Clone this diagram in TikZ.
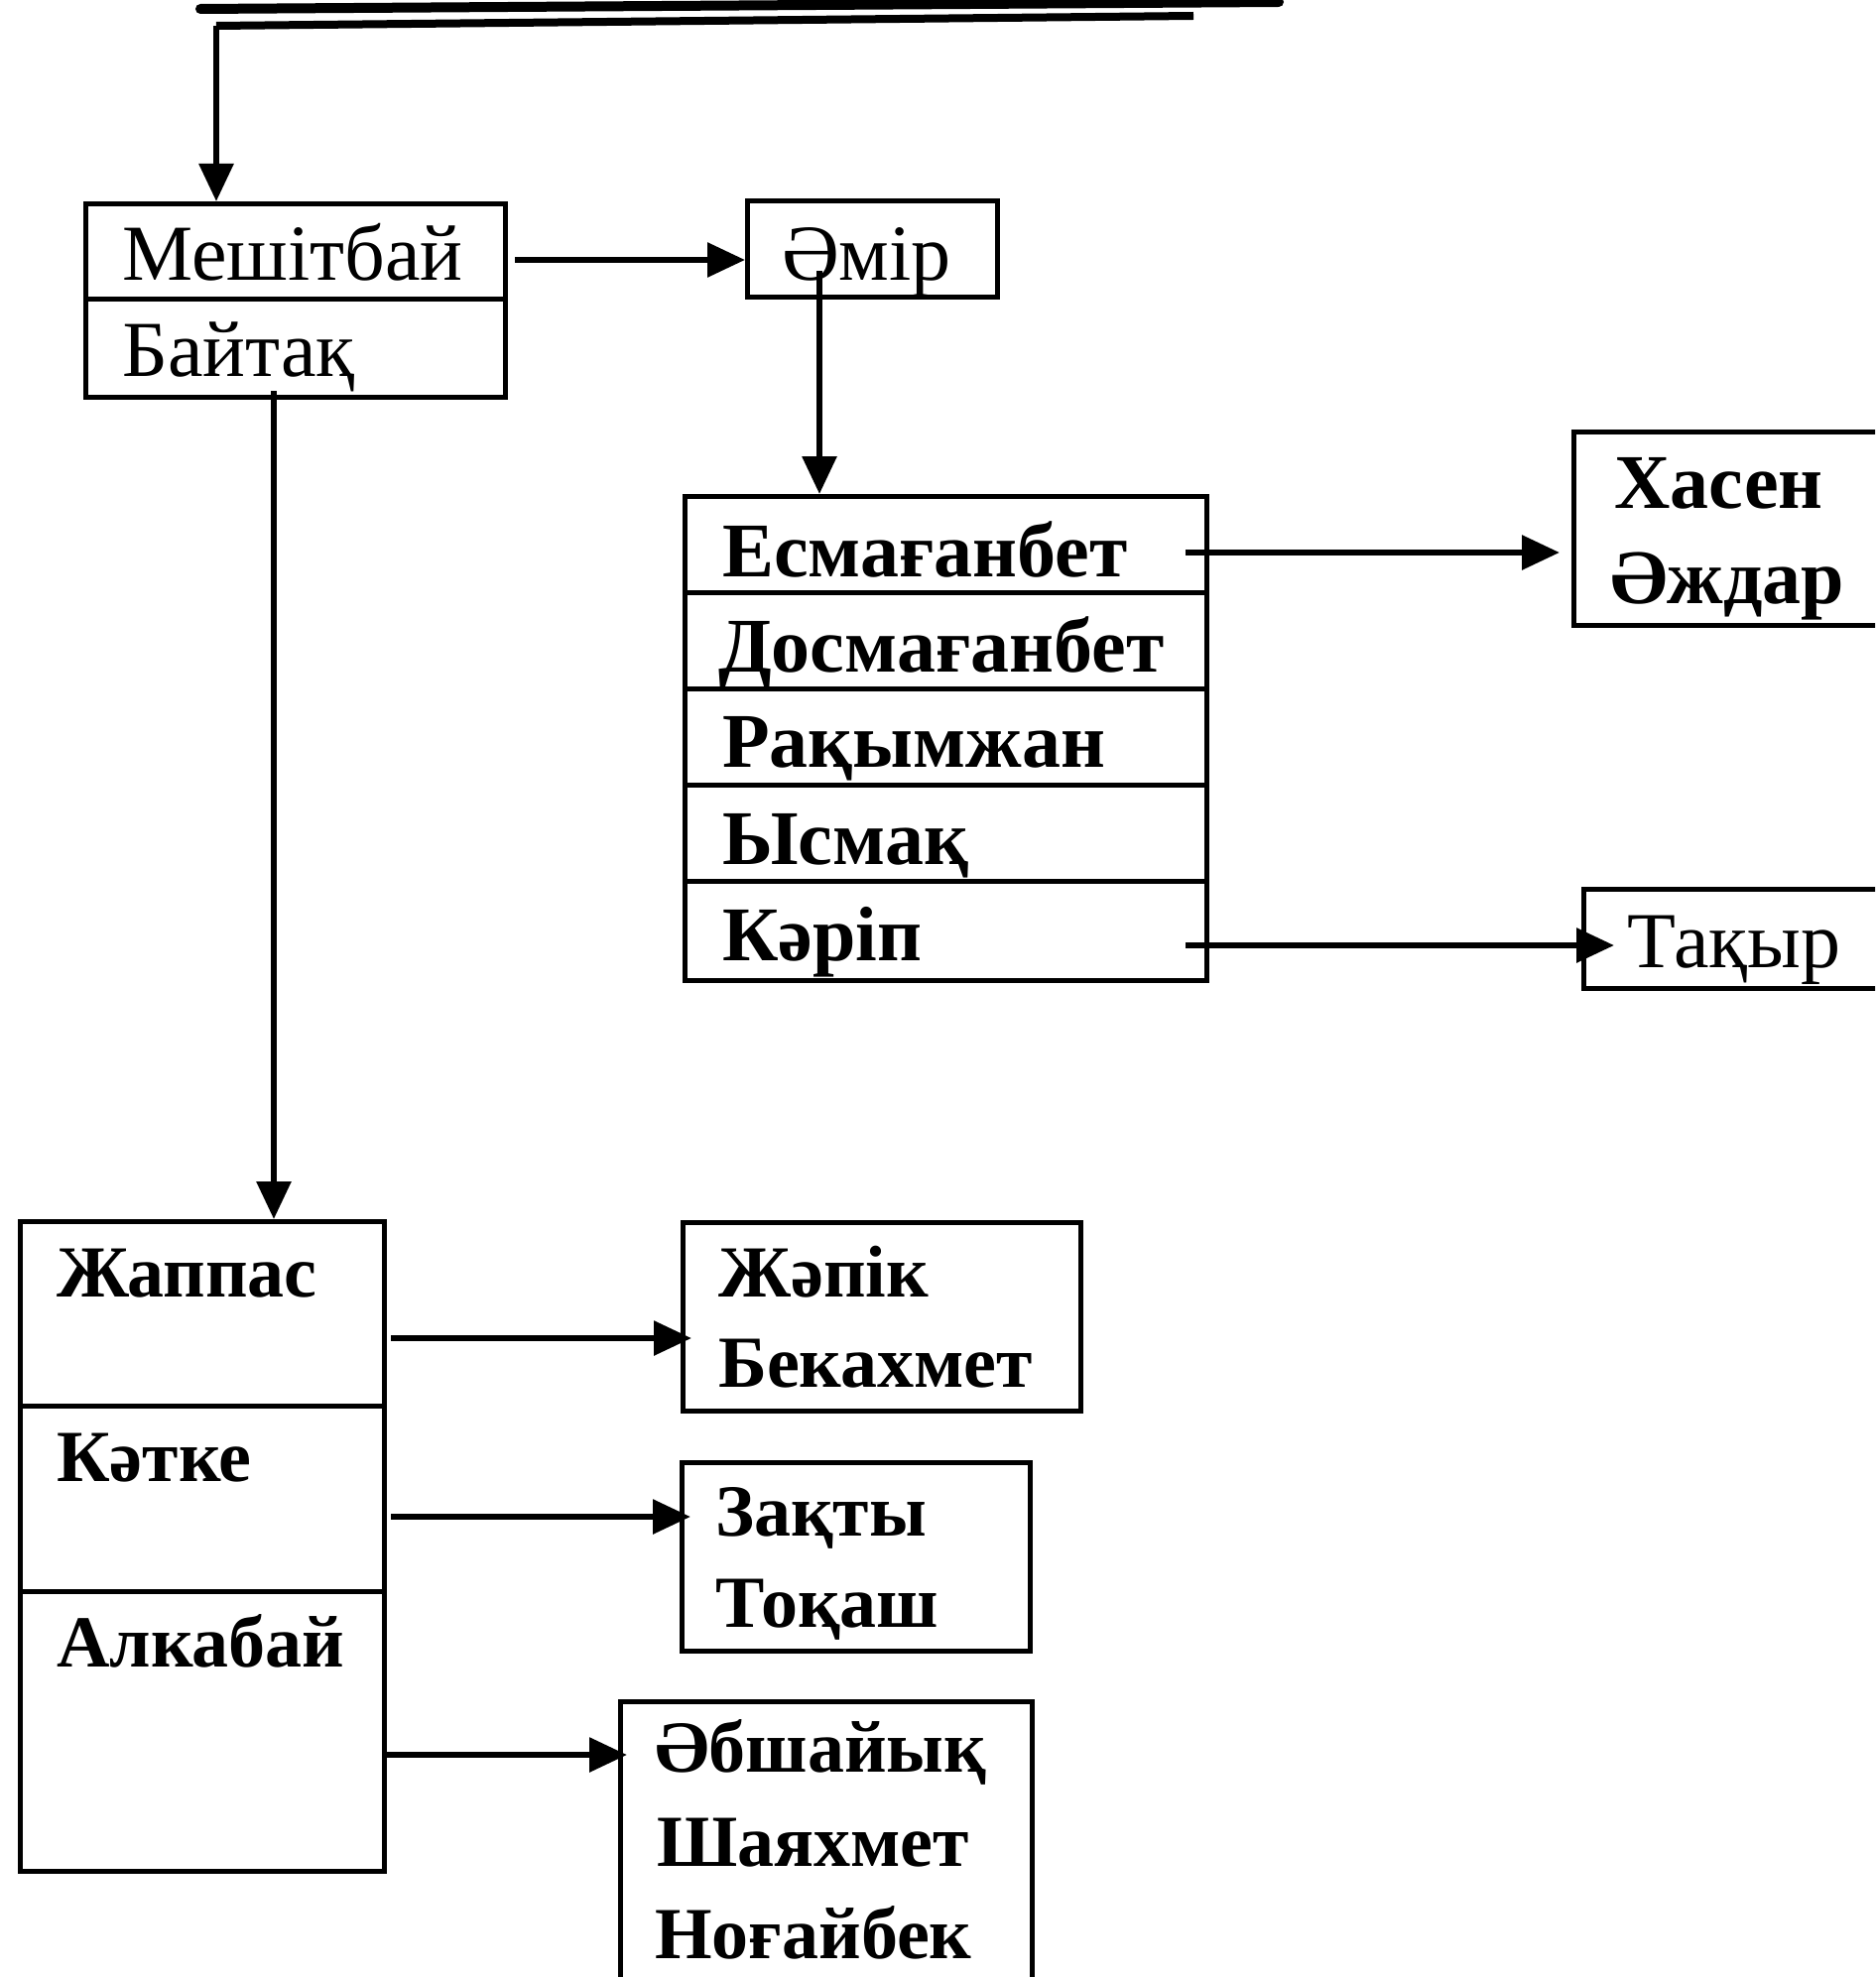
\documentclass[tikz,border=0pt]{standalone}
\usepackage{fontspec}
\setmainfont{Liberation Serif}
\usetikzlibrary{arrows.meta}
\tikzset{
  box/.style={draw, line width=5pt, rectangle, inner sep=0pt, anchor=north west},
  divider/.style={line width=5pt},
  arr/.style={line width=6pt, -{Triangle[length=38pt,width=34pt]}},
  lblb/.style={anchor=base west, inner sep=0pt, font=\fontsize{78}{80}\selectfont\bfseries},
  lblr/.style={anchor=base west, inner sep=0pt, font=\fontsize{80}{82}\selectfont},
  lbll/.style={anchor=base west, inner sep=0pt, font=\fontsize{74}{76}\selectfont\bfseries},
}
\begin{document}
\begin{tikzpicture}[x=1pt,y=-1pt]
\path[use as bounding box, clip] (0,0) rectangle (1890,1993);
\fill[white] (0,0) rectangle (1890,1993);

% top lines
\coordinate (topL) at (218,26);
\coordinate (topR) at (1203,16);
\coordinate (upL) at (202,9);
\coordinate (upR) at (1289,2);
\draw[line width=10pt, line cap=round] (upL) -- (upR);
\draw[line width=8pt] (topL) -- (topR);

% boxes
\node[box, minimum width=423pt, minimum height=195pt] (mesh) at (84,203) {};
\node[box, minimum width=252pt, minimum height=97pt] (amir) at (751,200) {};
\node[box, minimum width=526pt, minimum height=488pt] (big) at (688,498) {};
\node[box, minimum width=330pt, minimum height=195pt] (hasen) at (1584,433) {};
\node[box, minimum width=330pt, minimum height=100pt] (takyr) at (1594,894) {};
\node[box, minimum width=367pt, minimum height=655pt] (bot) at (18,1229) {};
\node[box, minimum width=401pt, minimum height=190pt] (zhapik) at (686,1230) {};
\node[box, minimum width=351pt, minimum height=190pt] (zakty) at (685,1472) {};
\node[box, minimum width=415pt, minimum height=320pt] (absh) at (623,1713) {};

% dividers
\draw[divider] (mesh.west |- 0,301) -- (mesh.east |- 0,301);
\foreach \yy in {597,694,791,888}{
  \draw[divider] (big.west |- 0,\yy) -- (big.east |- 0,\yy);
}
\draw[divider] (bot.west |- 0,1417) -- (bot.east |- 0,1417);
\draw[divider] (bot.west |- 0,1604) -- (bot.east |- 0,1604);

% texts
\node[lblr] (tMesh) at (123,282) {Мешітбай};
\node[lblr] (tBait) at (123,379) {Байтақ};
\node[lblr] (tAmir) at (788,282) {Әмір};
\node[lblb] (tEsm) at (728,581) {Есмағанбет};
\node[lblb] (tDos) at (724,677) {Досмағанбет};
\node[lblb] (tRak) at (728,773) {Рақымжан};
\node[lblb] (tYsm) at (728,871) {Ысмақ};
\node[lblb] (tKar) at (728,968) {Кәріп};
\node[lblb] (tHas) at (1627,512) {Хасен};
\node[lblb] (tAzh) at (1623,608) {Әждар};
\node[lblr] (tTak) at (1640,975) {Тақыр};
\node[lbll] (tZhap) at (57,1307) {Жаппас};
\node[lbll] (tKat) at (57,1493) {Кәтке};
\node[lbll] (tAlk) at (57,1680) {Алкабай};
\node[lbll] (tZhp) at (724,1307) {Жәпік};
\node[lbll] (tBek) at (724,1398) {Бекахмет};
\node[lbll] (tZak) at (721,1548) {Зақты};
\node[lbll] (tTok) at (721,1640) {Тоқаш};
\node[lbll] (tAbs) at (660,1786) {Әбшайық};
\node[lbll] (tSha) at (662,1881) {Шаяхмет};
\node[lbll] (tNog) at (660,1974) {Ноғайбек};

% connectors
\draw[arr] (topL) -- (topL |- mesh.north);
\coordinate (c1) at (519,262);
\draw[arr] (c1) -- (c1 -| amir.west);
\coordinate (c2) at (826,273);
\draw[arr] (c2) -- (c2 |- big.north);
\coordinate (c3) at (1195,557);
\draw[arr, shorten >=12pt] (c3) -- (c3 -| hasen.west);
\coordinate (c4) at (1195,953);
\draw[arr, shorten >=-33pt] (c4) -- (c4 -| takyr.west);
\coordinate (c5) at (276,394);
\draw[arr] (c5) -- (c5 |- bot.north);
\coordinate (c6) at (394,1349);
\draw[arr, shorten >=-11pt] (c6) -- (c6 -| zhapik.west);
\coordinate (c7) at (394,1529);
\draw[arr, shorten >=-11pt] (c7) -- (c7 -| zakty.west);
\coordinate (c8) at (390,1769);
\draw[arr, shorten >=-9pt] (c8) -- (c8 -| absh.west);
\end{tikzpicture}
\end{document}
